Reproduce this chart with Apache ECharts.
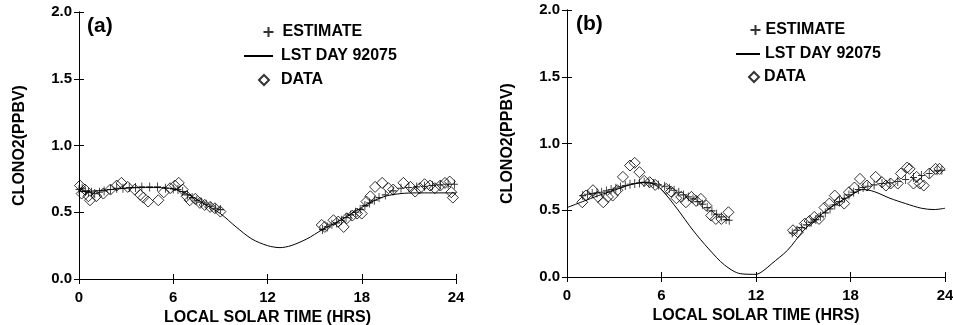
<!DOCTYPE html>
<html>
<head>
<meta charset="utf-8">
<script src="https://cdn.jsdelivr.net/npm/echarts@6/dist/echarts.min.js"></script>
<style>
  html, body { margin: 0; padding: 0; background: #fff; }
  #main { width: 953px; height: 325px; }
</style>
</head>
<body>
<div id="main"></div>
<script>
// tick labels
var xTicks = [0, 6, 12, 18, 24];
var yTicks = [0.0, 0.5, 1.0, 1.5, 2.0];

// panel (a): LST DAY 92075 curve
var lstA = [[0,0.655],[1,0.66],[2,0.67],[3,0.68],[4,0.685],[5,0.685],[6,0.675],[7,0.63],[8,0.56],[9,0.49],[10,0.39],[11,0.30],[12,0.25],[12.8,0.235],[13.5,0.25],[14.5,0.30],[15.5,0.37],[16.5,0.43],[17.5,0.50],[18.5,0.57],[19.5,0.62],[20.5,0.64],[21.5,0.645],[22.5,0.645],[24,0.645]];
// panel (a): estimate
var estA = [[0,0.67],[0.2,0.68],[0.4,0.66],[0.6,0.65],[0.8,0.65],[1.0,0.64],[1.3,0.65],[1.6,0.66],[2.0,0.67],[2.4,0.68],[2.8,0.68],[3.2,0.685],[3.6,0.685],[4.0,0.69],[4.5,0.69],[5.0,0.69],[5.5,0.68],[6.0,0.675],[6.3,0.67],[6.6,0.655],[6.9,0.63],[7.2,0.61],[7.5,0.59],[7.8,0.575],[8.1,0.56],[8.4,0.545],[8.7,0.53],[9.0,0.52],
  [15.5,0.37],[15.8,0.39],[16.1,0.41],[16.4,0.42],[16.7,0.44],[17.0,0.46],[17.3,0.48],[17.6,0.50],[17.9,0.52],[18.2,0.55],[18.5,0.57],[18.8,0.59],[19.1,0.61],[19.5,0.63],[20.0,0.66],[20.5,0.68],[21.0,0.685],[21.5,0.69],[22.0,0.695],[22.5,0.70],[23.0,0.705],[23.5,0.71],[23.9,0.71]];
// panel (a): data
var dataA = [[0.06,0.70],[0.17,0.64],[0.38,0.67],[0.6,0.62],[0.7,0.59],[1.1,0.62],[1.55,0.64],[2.0,0.67],[2.4,0.70],[2.7,0.72],[3.1,0.69],[3.55,0.67],[3.9,0.63],[4.1,0.61],[4.4,0.58],[5.05,0.59],[5.4,0.65],[5.8,0.68],[6.1,0.70],[6.35,0.72],[6.6,0.67],[6.85,0.62],[7.05,0.59],[7.4,0.60],[7.7,0.57],[8.0,0.555],[8.35,0.54],[8.65,0.53],[9.0,0.505],
  [15.45,0.405],[15.65,0.39],[16.2,0.44],[16.5,0.43],[16.85,0.39],[17.05,0.455],[17.4,0.475],[17.7,0.49],[18.0,0.49],[18.3,0.58],[18.55,0.62],[18.85,0.69],[19.3,0.72],[19.7,0.68],[20.0,0.67],[20.65,0.72],[21.1,0.69],[21.4,0.655],[21.7,0.68],[22.0,0.71],[22.35,0.70],[22.65,0.68],[23.0,0.70],[23.3,0.72],[23.6,0.73],[23.7,0.65],[23.8,0.61]];

// panel (b): LST DAY 92075 curve
var lstB = [[0,0.52],[1,0.565],[2,0.61],[3,0.65],[4,0.69],[5,0.71],[5.5,0.695],[6,0.655],[7,0.51],[8,0.35],[9,0.21],[10,0.09],[11,0.025],[12,0.02],[12.5,0.05],[13,0.10],[14,0.20],[15,0.345],[16,0.455],[17,0.54],[18,0.61],[18.8,0.655],[19.5,0.64],[20.5,0.59],[21.5,0.55],[22.5,0.515],[23.3,0.505],[24,0.515]];
// panel (b): estimate
var estB = [[1.0,0.61],[1.3,0.62],[1.6,0.625],[1.9,0.63],[2.2,0.635],[2.5,0.645],[2.8,0.655],[3.1,0.665],[3.4,0.675],[3.7,0.685],[4.0,0.695],[4.3,0.70],[4.6,0.705],[4.9,0.71],[5.2,0.705],[5.5,0.70],[5.8,0.69],[6.2,0.68],[6.5,0.665],[6.8,0.65],[7.1,0.635],[7.4,0.615],[7.7,0.60],[8.0,0.585],[8.3,0.565],[8.6,0.545],[8.9,0.52],[9.2,0.495],[9.5,0.47],[9.8,0.45],[10.1,0.43],[10.3,0.425],
  [14.3,0.33],[14.6,0.35],[14.9,0.37],[15.2,0.39],[15.5,0.41],[15.8,0.43],[16.1,0.455],[16.4,0.48],[16.7,0.51],[17.0,0.54],[17.3,0.565],[17.6,0.59],[17.9,0.615],[18.2,0.635],[18.5,0.655],[18.8,0.67],[19.1,0.68],[19.5,0.69],[20.0,0.70],[20.5,0.705],[21.0,0.715],[21.5,0.73],[22.0,0.745],[22.5,0.76],[23.0,0.775],[23.5,0.795],[23.8,0.80]];
// panel (b): data
var dataB = [[0.97,0.56],[1.2,0.61],[1.65,0.65],[1.97,0.60],[2.3,0.56],[2.6,0.60],[2.9,0.61],[3.2,0.65],[3.55,0.75],[4.0,0.835],[4.3,0.855],[4.6,0.785],[4.9,0.72],[5.25,0.71],[5.6,0.69],[6.3,0.66],[6.6,0.64],[6.95,0.59],[7.25,0.60],[7.55,0.56],[7.9,0.60],[8.2,0.57],[8.5,0.585],[8.85,0.535],[9.15,0.46],[9.45,0.435],[9.8,0.435],[10.25,0.485],
  [14.35,0.35],[14.65,0.335],[15.1,0.40],[15.4,0.42],[15.7,0.45],[16.0,0.435],[16.35,0.52],[16.65,0.55],[17.0,0.61],[17.3,0.57],[17.6,0.55],[17.9,0.635],[18.25,0.67],[18.6,0.735],[19.05,0.685],[19.6,0.75],[20.0,0.71],[20.25,0.685],[20.55,0.70],[21.0,0.70],[21.2,0.775],[21.6,0.82],[21.75,0.81],[22.0,0.70],[22.2,0.75],[22.4,0.70],[22.65,0.685],[23.0,0.775],[23.4,0.81],[23.65,0.81]];

var FONT = 'Liberation Sans, Arial, sans-serif';
var plusSymbol = 'path://M0,5L10,5M5,0L5,10';

function xAxes(gi) {
  return [{
    gridIndex: gi, type: 'value', min: xTicks[0], max: xTicks[xTicks.length - 1], interval: 6,
    name: 'LOCAL SOLAR TIME (HRS)', nameLocation: 'middle', nameGap: 28,
    nameTextStyle: { color: '#000', fontFamily: FONT, fontWeight: 'bold', fontSize: 16 },
    axisLine: { lineStyle: { color: '#000', width: 1 } },
    axisTick: { inside: true, length: 5, lineStyle: { color: '#000' } },
    axisLabel: { color: '#000', fontFamily: FONT, fontWeight: 'bold', fontSize: 15, margin: 11 },
    splitLine: { show: false }
  }, {
    gridIndex: gi, type: 'value', position: 'top', min: 0, max: 24, interval: 6,
    axisLine: { lineStyle: { color: '#000', width: 1 } },
    axisTick: { inside: true, length: 5, lineStyle: { color: '#000' } },
    axisLabel: { show: false },
    splitLine: { show: false }
  }];
}

function yAxes(gi) {
  return [{
    gridIndex: gi, type: 'value', min: yTicks[0], max: yTicks[yTicks.length - 1], interval: 0.5,
    name: 'CLONO2(PPBV)', nameLocation: 'middle', nameGap: 51,
    nameTextStyle: { color: '#000', fontFamily: FONT, fontWeight: 'bold', fontSize: 16 },
    axisLine: { show: true, lineStyle: { color: '#000', width: 1 } },
    axisTick: { show: true, inside: true, length: 5, lineStyle: { color: '#000' } },
    axisLabel: { color: '#000', fontFamily: FONT, fontWeight: 'bold', fontSize: 15, margin: 7,
      formatter: function (v) { return v.toFixed(1); } },
    splitLine: { show: false }
  }, {
    gridIndex: gi, type: 'value', position: 'right', min: 0, max: 2, interval: 0.5,
    axisLine: { show: true, lineStyle: { color: '#000', width: 1 } },
    axisTick: { show: true, inside: true, length: 5, lineStyle: { color: '#000' } },
    axisLabel: { show: false },
    splitLine: { show: false }
  }];
}

function seriesFor(axisIdx, lst, est, dat) {
  return [{
    name: 'ESTIMATE', type: 'scatter', xAxisIndex: axisIdx, yAxisIndex: axisIdx, data: est,
    symbol: plusSymbol, symbolSize: [7, 9],
    itemStyle: { color: 'none', borderColor: '#000', borderWidth: 1 }
  }, {
    name: 'LST DAY 92075', type: 'line', xAxisIndex: axisIdx, yAxisIndex: axisIdx, data: lst,
    smooth: 0.3, symbol: 'none', lineStyle: { color: '#000', width: 1 },
    itemStyle: { color: 'rgba(0,0,0,0)' }  // hides the dot in the legend icon
  }, {
    name: 'DATA', type: 'scatter', xAxisIndex: axisIdx, yAxisIndex: axisIdx, data: dat,
    symbol: 'diamond', symbolSize: 11,
    itemStyle: { color: 'rgba(0,0,0,0)', borderColor: '#000', borderWidth: 1 }
  }];
}

// one legend per entry so each icon can sit where it does in the figure
function legendItem(name, left, top, w, pad) {
  return {
    left: left, top: top, padding: 0, itemWidth: w, itemHeight: 10, selectedMode: false,
    textStyle: { color: '#000', fontFamily: FONT, fontWeight: 'bold', fontSize: 16, lineHeight: 16, padding: [0, 0, 0, pad] },
    data: [name]
  };
}

var myChart = echarts.init(document.getElementById('main'));
var option = {
  animation: false,
  backgroundColor: '#fff',
  title: [
    { text: '(a)', left: 82, top: 11, textStyle: { fontFamily: FONT, fontWeight: 'bold', fontSize: 21, color: '#000' } },
    { text: '(b)', left: 571, top: 9, textStyle: { fontFamily: FONT, fontWeight: 'bold', fontSize: 21, color: '#000' } }
  ],
  legend: [
    legendItem('ESTIMATE', 261, 24, 10, 4),
    legendItem('LST DAY 92075', 243, 48, 29, 3),
    legendItem('DATA', 258, 72, 10, 7),
    legendItem('ESTIMATE', 748, 22, 10, 0),
    legendItem('LST DAY 92075', 735, 46, 24, 0),
    legendItem('DATA', 748, 69, 10, 0)
  ],
  grid: [
    { left: 79, right: 497, top: 12, bottom: 46, outerBoundsMode: 'none' },
    { left: 567, right: 8, top: 10, bottom: 48, outerBoundsMode: 'none' }
  ],
  xAxis: xAxes(0).concat(xAxes(1)),
  yAxis: yAxes(0).concat(yAxes(1)),
  series: seriesFor(0, lstA, estA, dataA).concat(seriesFor(2, lstB, estB, dataB))
};
myChart.setOption(option);
window.addEventListener('resize', function () {
  myChart.resize();
});
</script>
</body>
</html>
